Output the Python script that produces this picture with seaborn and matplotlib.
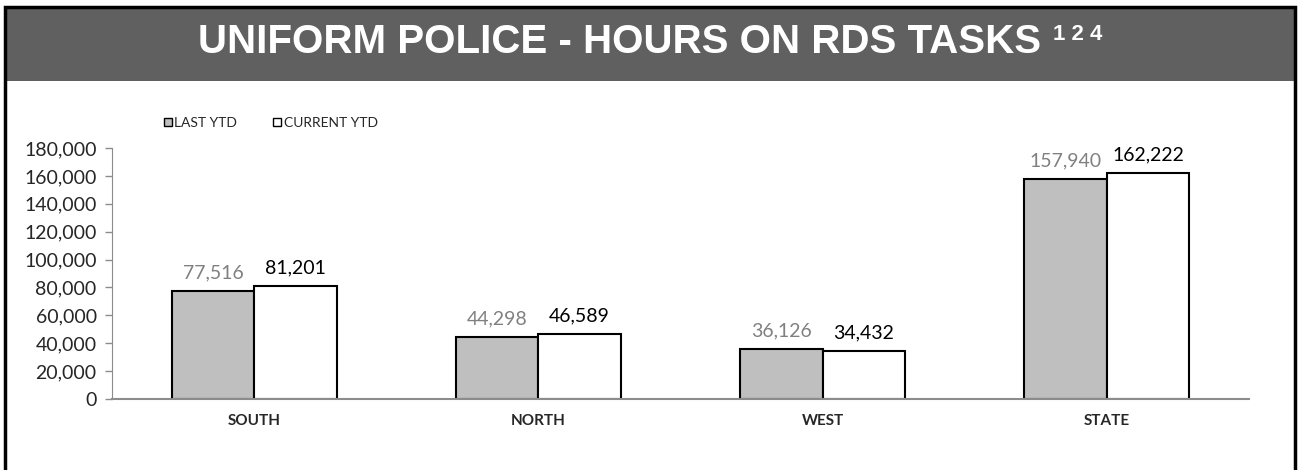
import pandas as pd
import matplotlib.pyplot as plt
import seaborn as sns
from matplotlib import font_manager
from matplotlib.patches import Rectangle, Patch

regions = ["SOUTH", "NORTH", "WEST", "STATE"]
last_ytd = [77516, 44298, 36126, 157940]
current_ytd = [81201, 46589, 34432, 162222]
series = ["LAST YTD", "CURRENT YTD"]
colors = ["#bfbfbf", "#ffffff"]
label_colors = ["#808080", "#000000"]

df = pd.DataFrame({
    "region": regions * 2,
    "series": [series[0]] * 4 + [series[1]] * 4,
    "hours": last_ytd + current_ytd,
})

sns.set_style("white")
plt.rcParams["font.family"] = ["Lato", "DejaVu Sans"]

fig = plt.figure(figsize=(13, 4.7), dpi=100)
ax = fig.add_axes([112 / 1300, 1 - 399 / 470, 1137 / 1300, 251 / 470])

sns.barplot(data=df, x="region", y="hours", hue="series", order=regions,
            hue_order=series, palette=colors, width=0.58, edgecolor="black",
            linewidth=1.5, ax=ax, legend=False)

for cont, c in zip(ax.containers, label_colors):
    ax.bar_label(cont, labels=[f"{v:,.0f}" for v in cont.datavalues],
                 color=c, fontsize=14, padding=7)

ax.set_ylim(0, 180000)
ax.set_xlim(-0.5, 3.5)
ax.set_yticks(range(0, 180001, 20000))
ax.set_yticklabels([f"{v:,}" for v in range(0, 180001, 20000)], fontsize=14)
ax.set_xlabel("")
ax.set_ylabel("")
for lab in ax.get_xticklabels():
    lab.set_fontweight("bold")
    lab.set_fontsize(11)
ax.tick_params(axis="x", length=0, pad=11)
ax.tick_params(axis="y", left=True, length=5, width=1, color="#8c8c8c", pad=6)
sns.despine(ax=ax, top=True, right=True)
ax.spines["left"].set_color("#8c8c8c")
ax.spines["bottom"].set_color("#8c8c8c")
ax.spines["bottom"].set_linewidth(1.5)

handles = [Patch(facecolor=colors[i], edgecolor="black", label=series[i]) for i in range(2)]
fig.legend(handles=handles, loc="center left", bbox_to_anchor=(157 / 1300, 1 - 123 / 470),
           ncol=2, frameon=False, fontsize=10, handlelength=0.55, handleheight=0.55,
           handletextpad=0.2, columnspacing=2.6, borderpad=0)

# title band and outer frame
fig.patches.append(Rectangle((0.004, 1 - 81 / 470), 0.992, 73 / 470, transform=fig.transFigure,
                             facecolor="#606060", edgecolor="none", zorder=0))
fig.patches.append(Rectangle((0.004, -0.05), 0.992, 1.035, transform=fig.transFigure,
                             facecolor="none", edgecolor="black", linewidth=2.5, zorder=5))

title_font = "Liberation Sans"
title = fig.text(198 / 1300, 1 - 42 / 470, "UNIFORM POLICE - HOURS ON RDS TASKS", color="white",
                 fontsize=29, fontweight="bold", family=title_font,
                 ha="left", va="center")
fig.canvas.draw()
bb = title.get_window_extent()
x_end = bb.x1 / fig.bbox.width
fig.text(x_end + 12 / 1300, 1 - 35 / 470, "1 2 4", color="white", fontsize=16,
         fontweight="bold", family=title_font, ha="left", va="center")

fig.savefig("out.png", dpi=100)
